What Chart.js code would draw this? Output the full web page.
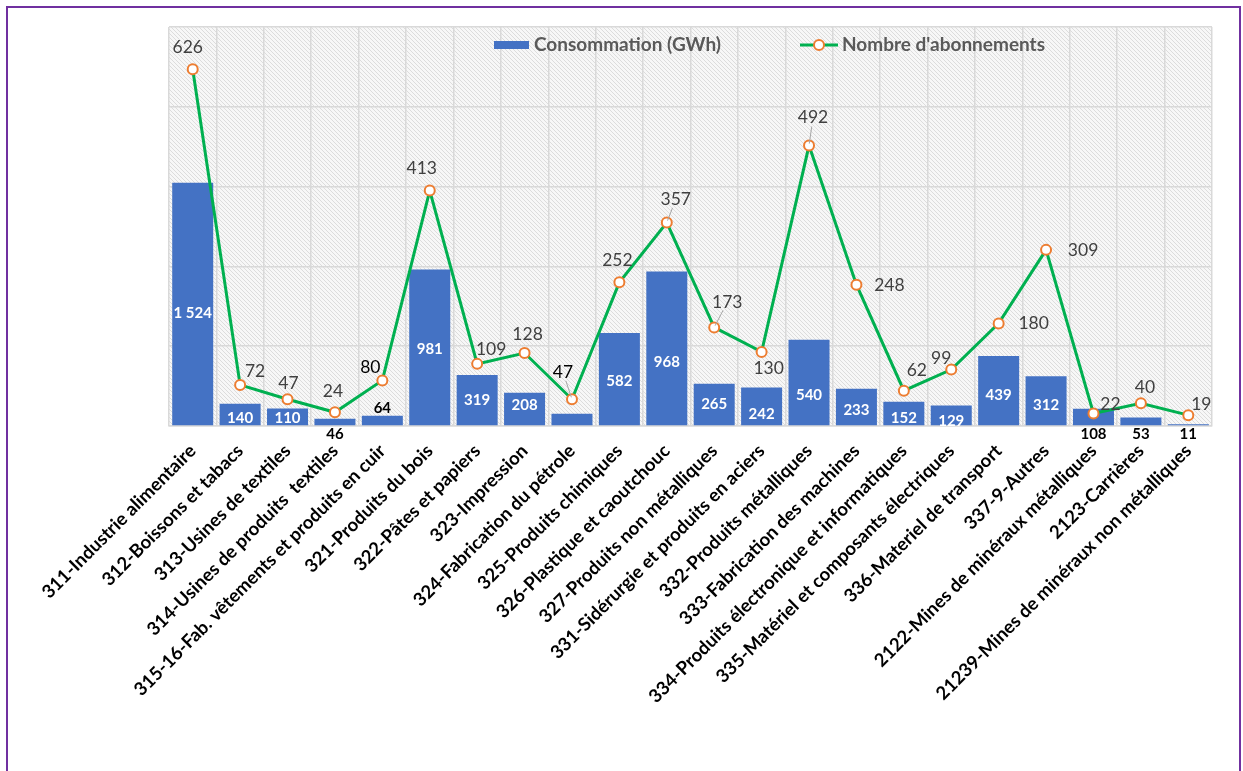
<!DOCTYPE html>
<html>
<head>
<meta charset="utf-8">
<script src="https://cdn.jsdelivr.net/npm/chart.js@4/dist/chart.umd.min.js"></script>
<style>
  html, body { margin: 0; padding: 0; background: #fff; width: 1243px; height: 771px; overflow: hidden; }
  #frame { position: absolute; left: 6px; top: 6px; width: 1231px; height: 800px; border: 2px solid #7030A0; box-sizing: content-box; }
  #c { position: absolute; left: 0; top: 0; }
</style>
</head>
<body>
<div id="frame"></div>
<canvas id="c" width="1243" height="771"></canvas>
<script>
// ---- DATA ----
const categories = [
  "311-Industrie alimentaire",
  "312-Boissons et tabacs",
  "313-Usines de textiles",
  "314-Usines de produits  textiles",
  "315-16-Fab. vêtements et produits en cuir",
  "321-Produits du bois",
  "322-Pâtes et papiers",
  "323-Impression",
  "324-Fabrication du pétrole",
  "325-Produits chimiques",
  "326-Plastique et caoutchouc",
  "327-Produits non métalliques",
  "331-Sidérurgie et produits en aciers",
  "332-Produits métalliques",
  "333-Fabrication des machines",
  "334-Produits électronique et informatiques",
  "335-Matériel et composants électriques",
  "336-Materiel de transport",
  "337-9-Autres",
  "2122-Mines de minéraux métalliques",
  "2123-Carrières",
  "21239-Mines de minéraux non métalliques"
];
const consommation = [1524, 140, 110, 46, 64, 981, 319, 208, 76, 582, 968, 265, 242, 540, 233, 152, 129, 439, 312, 108, 53, 11];
const abonnements  = [626, 72, 47, 24, 80, 413, 109, 128, 47, 252, 357, 173, 130, 492, 248, 62, 99, 180, 309, 22, 40, 19];
const seriesNames = ["Consommation (GWh)", "Nombre d'abonnements"];
const barAxisMax = 2500, barAxisStep = 500;
const lineAxisMax = 700;

// ---- STYLE ----
const FONT = "Lato, 'Open Sans', sans-serif";
const BLUE = "#4472C4", GREEN = "#00B050", ORANGE = "#ED7D31";

// label placement tweaks (styling only)
const lineLabelOffset = [
  [-5,-22],[15,-14],[1,-16],[-2,-21],[-12,-13],[-8,-22],[14,-15],[3,-19],[-9,-27],[-2,-22],
  [9,-23],[13,-25],[7,16],[4,-28],[33,1],[13,-20],[-10,-11],[35,0],[37,0],[17,-9],[4,-16],[13,-11]
];
const lineLabelDark = {4:true, 8:true};
const leaderIdx = {8:true, 10:true, 11:true, 13:true};
const barLabelMode = {3:'below', 4:'above', 8:'none', 19:'below', 20:'below', 21:'below'};
const barLabelNudge = {0:9,1:3,2:1,5:1,7:-4,9:2,10:13,11:-1,12:7,13:12,14:3,15:4,16:5,17:4,18:4};

function fmt(v){ return String(v).replace(/\B(?=(\d{3})+(?!\d))/g, " "); }

function makePattern(ctx){
  const s = 4;
  const pc = document.createElement('canvas');
  pc.width = s; pc.height = s;
  const p = pc.getContext('2d');
  p.fillStyle = '#f7f7f7';
  p.fillRect(0,0,s,s);
  p.strokeStyle = '#dcdcdc';
  p.lineWidth = 1;
  for (let k=-1;k<=1;k++){
    p.beginPath();
    p.moveTo(-1, -1 + k*s);
    p.lineTo(s+1, s+1 + k*s);
    p.stroke();
  }
  return ctx.createPattern(pc, 'repeat');
}

const bgPlugin = {
  id: 'bg',
  beforeDraw(chart){
    const {ctx, chartArea: a} = chart;
    ctx.save();
    ctx.fillStyle = makePattern(ctx);
    ctx.fillRect(a.left, a.top, a.right - a.left, a.bottom - a.top);
    ctx.restore();
  }
};

const labelsPlugin = {
  id: 'labels',
  afterDatasetsDraw(chart){
    const ctx = chart.ctx;
    const barMeta = chart.getDatasetMeta(0);
    const lineMeta = chart.getDatasetMeta(1);
    const base = chart.scales.y.getPixelForValue(0);
    ctx.save();
    ctx.textAlign = 'center';
    ctx.textBaseline = 'middle';
    // bar labels
    barMeta.data.forEach((bar, i) => {
      const mode = barLabelMode[i] || 'inside';
      if (mode === 'none') return;
      const txt = fmt(consommation[i]);
      ctx.font = "bold 15px " + FONT;
      if (mode === 'inside') {
        ctx.fillStyle = '#ffffff';
        const cy = (bar.y + base) / 2 + (barLabelNudge[i] || 0);
        ctx.fillText(txt, bar.x, cy);
      } else if (mode === 'above') {
        ctx.fillStyle = '#000000';
        ctx.fillText(txt, bar.x, bar.y - 8);
      } else {
        ctx.fillStyle = '#000000';
        ctx.fillText(txt, bar.x, base + 8);
      }
    });
    // line labels
    lineMeta.data.forEach((pt, i) => {
      const [dx, dy] = lineLabelOffset[i];
      if (leaderIdx[i]) {
        ctx.strokeStyle = '#a6a6a6';
        ctx.lineWidth = 1;
        ctx.beginPath();
        const len = Math.hypot(dx, dy);
        const ux = dx/len, uy = dy/len;
        ctx.moveTo(pt.x + ux*2, pt.y + uy*2);
        ctx.lineTo(pt.x + dx - ux*9, pt.y + dy - uy*9);
        ctx.stroke();
      }
      ctx.font = "17.5px " + FONT;
      ctx.fillStyle = lineLabelDark[i] ? '#000000' : '#404040';
      ctx.fillText(String(abonnements[i]), pt.x + dx, pt.y + dy);
    });
    ctx.restore();
  }
};

const legendPlugin = {
  id: 'customLegend',
  afterDraw(chart){
    const ctx = chart.ctx;
    const a = chart.chartArea;
    const y = a.top + 18;
    ctx.save();
    ctx.font = "bold 19px " + FONT;
    ctx.textBaseline = 'middle';
    ctx.textAlign = 'left';
    // bar item
    let x = a.left + 325;
    ctx.fillStyle = BLUE;
    ctx.fillRect(x, y - 4, 35, 8);
    ctx.fillStyle = '#595959';
    ctx.fillText(seriesNames[0], x + 40, y);
    // line item
    x = a.left + 631;
    ctx.strokeStyle = GREEN;
    ctx.lineWidth = 3;
    ctx.beginPath(); ctx.moveTo(x, y); ctx.lineTo(x + 38, y); ctx.stroke();
    ctx.beginPath(); ctx.arc(x + 19, y, 5, 0, Math.PI*2);
    ctx.fillStyle = '#fff'; ctx.fill();
    ctx.strokeStyle = ORANGE; ctx.lineWidth = 2; ctx.stroke();
    ctx.fillStyle = '#595959';
    ctx.fillText(seriesNames[1], x + 42, y);
    ctx.restore();
  }
};

new Chart(document.getElementById('c'), {
  type: 'bar',
  data: {
    labels: categories,
    datasets: [
      {
        type: 'bar',
        label: seriesNames[0],
        data: consommation,
        backgroundColor: BLUE,
        yAxisID: 'y',
        categoryPercentage: 1.0,
        barPercentage: 0.865,
        order: 2
      },
      {
        type: 'line',
        label: seriesNames[1],
        data: abonnements,
        borderColor: GREEN,
        borderWidth: 3,
        pointRadius: 5,
        pointBorderWidth: 2,
        pointBackgroundColor: '#ffffff',
        pointBorderColor: ORANGE,
        tension: 0,
        yAxisID: 'y1',
        order: 1
      }
    ]
  },
  options: {
    responsive: false,
    animation: false,
    devicePixelRatio: 1,
    layout: { padding: { left: 169, top: 27, right: 31, bottom: 0 } },
    plugins: { legend: { display: false }, tooltip: { enabled: false } },
    scales: {
      x: {
        offset: true,
        grid: { offset: true, color: '#d9d9d9', lineWidth: 1.5, drawTicks: false },
        border: { color: '#d9d9d9', width: 1.5 },
        ticks: {
          autoSkip: false,
          maxRotation: 45,
          minRotation: 45,
          padding: 14,
          color: '#000000',
          font: { family: FONT, size: 18.5, weight: 'bold' }
        },
        afterFit(s){ s.height = 771 - 426; }
      },
      y: {
        position: 'left',
        min: 0,
        max: barAxisMax,
        ticks: { display: false, stepSize: barAxisStep },
        grid: { color: '#d9d9d9', lineWidth: 1.5, drawTicks: false },
        border: { display: false },
        afterFit(s){ s.width = 0; }
      },
      y1: {
        display: false,
        position: 'right',
        min: 0,
        max: lineAxisMax,
        grid: { display: false }
      }
    }
  },
  plugins: [bgPlugin, labelsPlugin, legendPlugin]
});
</script>
</body>
</html>
